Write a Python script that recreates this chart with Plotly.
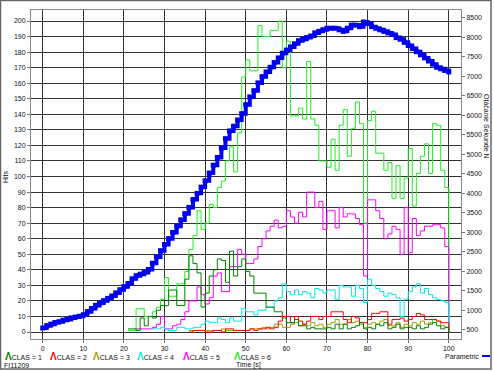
import plotly.graph_objects as go

# ---------------- data ----------------
t_clas = list(range(21, 101))
t_param = list(range(0, 101))

clas1 = [2, 2, 1, 9, 4, 10, 9, 14, 17, 17, 27, 27, 17, 17, 34, 49, 44, 38, 16, 25,
         36, 40, 47, 46, 32, 52, 36, 42, 47, 39, 36, 25, 25, 25, 16, 16, 13, 13, 9, 6,
         6, 8, 4, 4, 2, 3, 2, 2, 2, 3, 2, 5, 2, 5, 2, 3, 4, 6, 2, 3,
         2, 5, 4, 6, 2, 3, 5, 2, 3, 3, 2, 4, 2, 3, 5, 6, 4, 2, 3, 0]
clas2 = [None] * 15 + [0, 1, 1, 1, 0, 0, 1, 1, 0, 2, 2, 1, 1, 1, 1, 2, 1, 2, 2, 3,
         2, 3, 7, 10, 10, 6, 10, 7, 5, 7, 10, 10, 8, 10, 10, 13, 13, 13, 8, 6,
         10, 9, 6, 6, 8, 12, 12, 13, 13, 5, 8, 8, 9, 7, 8, 10, 12, 11, 8, 8,
         8, 7, 6, 6, 0]
clas3 = [None] * 15 + [1, 1, 1, 1, 1, 1, 1, 1, 2, 1, 1, 1, 1, 1, 1, 2, 2, 2, 3, 2,
         3, 5, 5, 3, 3, 5, 6, 4, 5, 4, 6, 4, 5, 3, 5, 6, 8, 5, 5, 8,
         6, 7, 5, 3, 5, 6, 5, 7, 8, 4, 4, 6, 3, 5, 4, 6, 5, 7, 5, 6,
         8, 7, 4, 3, 0]
clas4 = [None] * 6 + [2, 2, 3, 2, 1, 1, 3, 3, 2, 2, 3, 3, 5, 7, 6, 6, 9, 8, 6, 9,
         7, 7, 15, 13, 13, 11, 14, 14, 16, 16, 20, 22, 31, 26, 24, 27, 24, 26, 25, 22,
         28, 27, 25, 27, 27, 21, 30, 29, 29, 23, 30, 28, 19, 34, 30, 28, 26, 23, 25, 24,
         22, 10, 21, 26, 29, 31, 25, 28, 24, 22, 21, 20, 19, 0]
clas5 = [None] * 2 + [2, 2, 2, 2, 3, 5, 10, 2, 2, 4, 5, 8, 13, 20, 20, 29, 24, 18,
         22, 36, 38, 26, 26, 42, 42, 53, 50, 44, 44, 47, 55, 60, 65, 68, 72, 67, 68, 78,
         74, 70, 77, 74, 90, 90, 80, 84, 66, 78, 78, 67, 80, 74, 76, 76, 73, 69, 36, 85,
         85, 78, 73, 60, 63, 68, 66, 50, 80, 51, 73, 62, 65, 68, 68, 69, 69, 67, 55, 0]
clas6 = [1, 1, 15, 15, 10, 10, 13, 16, 21, 35, 23, 23, 31, 31, 39, 53, 62, 78, 66, 70,
         82, 80, 93, 97, 110, 119, 103, 128, 164, 175, 168, 168, 197, 190, 190, 194, 194, 200, 170, 187,
         139, 139, 144, 137, 174, 137, 133, 110, 110, 106, 124, 104, 133, 143, 113, 131, 148, 134, 70, 136,
         142, 115, 115, 104, 109, 86, 107, 86, 99, 118, 81, 102, 113, 121, 102, 134, 133, 104, 93, 0]
parametric = [550, 610, 650, 690, 710, 750, 770, 810, 830, 850,
              890, 970, 1050, 1130, 1190, 1250, 1310, 1370, 1450, 1530,
              1610, 1690, 1810, 1890, 1930, 1970, 2050, 2210, 2370, 2530,
              2690, 2840, 3000, 3160, 3320, 3480, 3640, 3840, 4000, 4160,
              4320, 4520, 4720, 4920, 5160, 5400, 5600, 5720, 5880, 6040,
              6270, 6470, 6630, 6830, 6990, 7110, 7230, 7350, 7470, 7590,
              7670, 7750, 7830, 7910, 7950, 7990, 8030, 8110, 8150, 8190,
              8230, 8230, 8230, 8190, 8150, 8230, 8310, 8310, 8270, 8390,
              8350, 8270, 8230, 8190, 8150, 8110, 8070, 7990, 7950, 7870,
              7790, 7710, 7630, 7550, 7470, 7390, 7310, 7230, 7190, 7150, 7110]

series_names = ["CLAS = 1", "CLAS = 2", "CLAS = 3", "CLAS = 4", "CLAS = 5", "CLAS = 6"]
series_vals = [clas1, clas2, clas3, clas4, clas5, clas6]
series_colors = ["#008000", "#ff0000", "#a0a000", "#00e8e8", "#ff00ff", "#22ee22"]

x_ticks = list(range(0, 101, 10))
y_ticks = list(range(0, 201, 10))
y2_ticks = list(range(500, 8501, 500))
y2_labels = [str(v) for v in y2_ticks]

# ---------------- layout helpers ----------------
W, H = 494, 371
ML, MR, MT, MB = 31, 33, 10, 32
PW, PH = W - ML - MR, H - MT - MB


def px(x):
    return (x - ML) / PW


def py(y):
    return (H - MB - y) / PH


FONT = "Arial, Liberation Sans, sans-serif"

fig = go.Figure()

for name, vals, col in reversed(list(zip(series_names, series_vals, series_colors))):
    fig.add_trace(go.Scatter(x=t_clas, y=vals, mode="lines", name=name,
                             line=dict(color=col, width=1, shape="hv"),
                             connectgaps=False, showlegend=False, yaxis="y"))

fig.add_trace(go.Scatter(x=t_param, y=parametric, mode="lines+markers", name="Parametric",
                         line=dict(color="#0000ee", width=4, shape="hv"),
                         marker=dict(symbol="square", size=5, color="#0000ee"),
                         showlegend=False, yaxis="y2"))

axis_font = dict(family=FONT, size=7, color="#111")

fig.update_layout(
    width=W, height=H,
    margin=dict(l=ML, r=MR, t=MT, b=MB, pad=0, autoexpand=False),
    paper_bgcolor="white", plot_bgcolor="white",
    showlegend=False,
    xaxis=dict(range=[-2.88, 103.0], tickvals=x_ticks, ticks="outside", ticklen=3,
               tickcolor="#777", tickfont=axis_font, showgrid=True, gridcolor="#333",
               gridwidth=1, zeroline=False, showline=True, linecolor="#888",
               linewidth=1, mirror=True, automargin=False),
    yaxis=dict(range=[-4.5, 207.1], tickvals=y_ticks, ticks="outside", ticklen=3,
               tickcolor="#777", tickfont=axis_font, showgrid=True, gridcolor="#333",
               gridwidth=1, zeroline=False, showline=True, linecolor="#888",
               linewidth=1, automargin=False),
    yaxis2=dict(range=[269, 8697], tickvals=y2_ticks, ticktext=y2_labels,
                overlaying="y", side="right",
                ticks="outside", ticklen=3, tickcolor="#777", tickfont=axis_font,
                showgrid=False, zeroline=False, showline=True,
                linecolor="#888", linewidth=1, automargin=False),
)

small = dict(family=FONT, size=7, color="#111")
ann = []
# axis titles
ann.append(dict(x=px(5), y=py(177), xref="paper", yref="paper", text="Hits",
                xanchor="center", yanchor="middle", textangle=-90, showarrow=False, font=small))
ann.append(dict(x=px(487), y=py(127), xref="paper", yref="paper", text="Otáčanie Sekunde N",
                xanchor="center", yanchor="middle", textangle=90, showarrow=False, font=small))
ann.append(dict(x=px(248), y=py(365), xref="paper", yref="paper", text="Time [s]",
                xanchor="center", yanchor="middle", showarrow=False, font=small))
ann.append(dict(x=px(2), y=py(365), xref="paper", yref="paper", text="FI11209",
                xanchor="left", yanchor="middle", showarrow=False, font=small))
# legend items
leg_x = [3, 48, 91, 135, 181, 232]
for lx, name, col in zip(leg_x, series_names, series_colors):
    ann.append(dict(x=px(lx), y=py(356), xref="paper", yref="paper",
                    xanchor="left", yanchor="middle",
                    text=f"<span style='color:{col};font-size:10px'><b>Λ</b></span>{name}",
                    showarrow=False, font=small))
ann.append(dict(x=px(481), y=py(356), xref="paper", yref="paper",
                xanchor="right", yanchor="middle",
                text="Parametric", showarrow=False, font=small))

shapes = [
    dict(type="line", xref="paper", yref="paper", x0=px(482), x1=px(490), y0=py(356), y1=py(356),
         line=dict(color="#0000ee", width=2)),
    dict(type="rect", xref="paper", yref="paper", x0=px(0.5), x1=px(491), y0=py(369), y1=py(0.5),
         line=dict(color="#666", width=1.5), layer="above"),
]

fig.update_layout(annotations=ann, shapes=shapes)
fig.write_html("out.html", config={"displayModeBar": False},
               post_script="document.body.style.margin='0';document.body.style.overflow='hidden';")
